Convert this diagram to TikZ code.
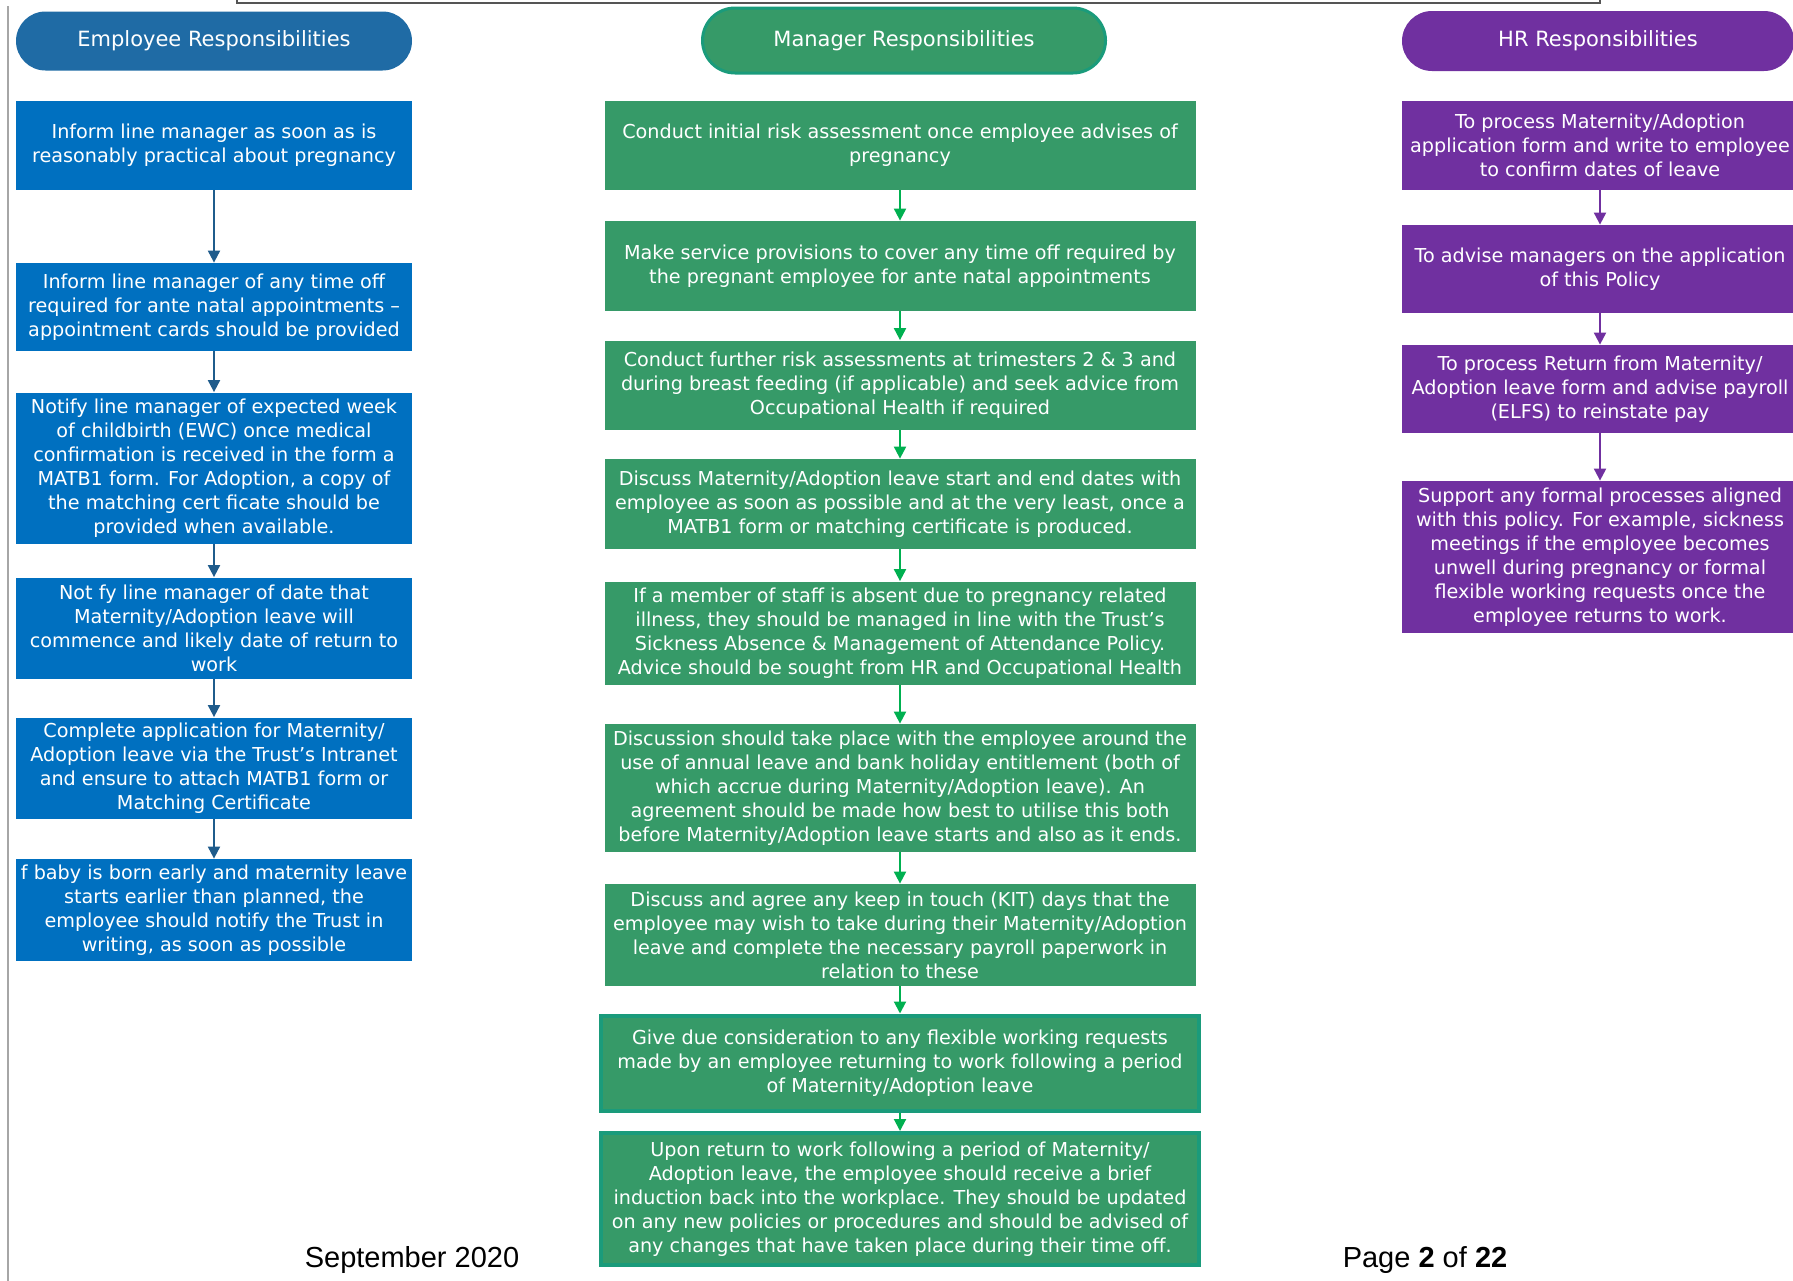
\documentclass[tikz,border=0pt]{standalone}
\usepackage{fontspec}
\setmainfont{DejaVu Sans}
\newfontfamily\pagefont{Liberation Sans}
\usetikzlibrary{shapes.misc, arrows.meta}

\definecolor{emphead}{HTML}{1F6BA5}
\definecolor{empblue}{HTML}{0070C0}
\definecolor{emparrow}{HTML}{1F5C8C}
\definecolor{mangreen}{HTML}{369A68}
\definecolor{manedge}{HTML}{1A9B7B}
\definecolor{manarrow}{HTML}{00B050}
\definecolor{hrpurple}{HTML}{7030A0}
\definecolor{framegray}{HTML}{555555}

\begin{document}
\begin{tikzpicture}[x = 0.5pt, y = -0.5pt,
    every node/.style = {text = white, align = center, inner sep = 0pt,
        font = \fontsize{9.6}{12}\selectfont},
    box/.style  = {rectangle, minimum width = 198pt},
    mbox/.style = {rectangle, minimum width = 295.5pt},
    head/.style = {rounded rectangle, minimum width = 198pt,
        font = \fontsize{10.5}{12}\selectfont},
    flow/.style = {line width = 1pt, -{Triangle[width = 6pt, length = 6pt]}}]

\useasboundingbox (0,0) rectangle (1793,1280);
\draw[framegray, line width = 1pt] (237,-10) -- (237,3) -- (1600,3) -- (1600,-10);
\draw[gray!70, line width = 1pt] (8,6) -- (8,1290);

\begin{scope}[nodes = {fill = empblue}]
\node[head, fill = emphead, minimum height = 29.5pt] (EH) at (214,41) {Employee Responsibilities};
\node[box, minimum height = 44.5pt] (E1) at (214,145)
    {Inform line manager as soon as is\\reasonably practical about pregnancy};
\node[box, minimum height = 44pt] (E2) at (214,307)
    {Inform line manager of any time off\\required for ante natal appointments –\\appointment cards should be provided};
\node[box, minimum height = 75.5pt] (E3) at (214,468)
    {Notify line manager of expected week\\of childbirth (EWC) once medical\\confirmation is received in the form a\\MATB1 form. For Adoption, a copy of\\the matching cert ficate should be\\provided when available.};
\node[box, minimum height = 50.5pt] (E4) at (214,628)
    {Not fy line manager of date that\\Maternity/Adoption leave will\\commence and likely date of return to\\work};
\node[box, minimum height = 50.5pt] (E5) at (214,768)
    {Complete application for Maternity/\\Adoption leave via the Trust’s Intranet\\and ensure to attach MATB1 form or\\Matching Certificate};
\node[box, minimum height = 51pt] (E6) at (214,910)
    {f baby is born early and maternity leave\\starts earlier than planned, the\\employee should notify the Trust in\\writing, as soon as possible};
\end{scope}

\begin{scope}[nodes = {fill = mangreen}]
\node[head, draw = manedge, line width = 1.5pt, minimum width = 201.5pt,
    minimum height = 32.5pt] (MH) at (904,40.5) {Manager Responsibilities};
\node[mbox, minimum height = 44.5pt] (M1) at (900,145)
    {Conduct initial risk assessment once employee advises of\\pregnancy};
\node[mbox, minimum height = 45pt] (M2) at (900,266)
    {Make service provisions to cover any time off required by\\the pregnant employee for ante natal appointments};
\node[mbox, minimum height = 44.5pt] (M3) at (900,385)
    {Conduct further risk assessments at trimesters 2 \& 3 and\\during breast feeding (if applicable) and seek advice from\\Occupational Health if required};
\node[mbox, minimum height = 45pt] (M4) at (900,504)
    {Discuss Maternity/Adoption leave start and end dates with\\employee as soon as possible and at the very least, once a\\MATB1 form or matching certificate is produced.};
\node[mbox, minimum height = 51.5pt] (M5) at (900,633)
    {If a member of staff is absent due to pregnancy related\\illness, they should be managed in line with the Trust’s\\Sickness Absence \& Management of Attendance Policy.\\Advice should be sought from HR and Occupational Health};
\node[mbox, minimum height = 64pt] (M6) at (900,788)
    {Discussion should take place with the employee around the\\use of annual leave and bank holiday entitlement (both of\\which accrue during Maternity/Adoption leave). An\\agreement should be made how best to utilise this both\\before Maternity/Adoption leave starts and also as it ends.};
\node[mbox, minimum height = 51pt] (M7) at (900,935)
    {Discuss and agree any keep in touch (KIT) days that the\\employee may wish to take during their Maternity/Adoption\\leave and complete the necessary payroll paperwork in\\relation to these};
\node[mbox, draw = manedge, line width = 2pt, minimum width = 299pt,
    minimum height = 47.5pt] (M8) at (900,1063)
    {Give due consideration to any flexible working requests\\made by an employee returning to work following a period\\of Maternity/Adoption leave};
\node[mbox, draw = manedge, line width = 2pt, minimum width = 299pt,
    minimum height = 66pt] (M9) at (900,1199)
    {Upon return to work following a period of Maternity/\\Adoption leave, the employee should receive a brief\\induction back into the workplace. They should be updated\\on any new policies or procedures and should be advised of\\any changes that have taken place during their time off.};
\end{scope}

\begin{scope}[nodes = {fill = hrpurple}]
\node[head, minimum width = 196pt, minimum height = 30pt] (HH) at (1598,41) {HR Responsibilities};
\node[box, minimum height = 44.5pt] (H1) at (1600,145)
    {To process Maternity/Adoption\\application form and write to employee\\to confirm dates of leave};
\node[box, minimum height = 44pt] (H2) at (1600,269)
    {To advise managers on the application\\of this Policy};
\node[box, minimum height = 44pt] (H3) at (1600,389)
    {To process Return from Maternity/\\Adoption leave form and advise payroll\\(ELFS) to reinstate pay};
\node[box, minimum height = 76pt] (H4) at (1600,557)
    {Support any formal processes aligned\\with this policy. For example, sickness\\meetings if the employee becomes\\unwell during pregnancy or formal\\flexible working requests once the\\employee returns to work.};
\end{scope}

\begin{scope}[emparrow, line width = 1.2pt]
    \draw[flow] (E1) -- (E2);
    \draw[flow] (E2) -- (E3);
    \draw[flow] (E3) -- (E4);
    \draw[flow] (E4) -- (E5);
    \draw[flow] (E5) -- (E6);
\end{scope}
\begin{scope}[manarrow]
    \draw[flow] (M1) -- (M2);
    \draw[flow] (M2) -- (M3);
    \draw[flow] (M3) -- (M4);
    \draw[flow] (M4) -- (M5);
    \draw[flow] (M5) -- (M6);
    \draw[flow] (M6) -- (M7);
    \draw[flow] (M7) -- (M8);
    \draw[flow] (M8) -- (M9);
\end{scope}
\begin{scope}[hrpurple]
    \draw[flow] (H1) -- (H2);
    \draw[flow] (H2) -- (H3);
    \draw[flow] (H3) -- (H4);
\end{scope}

\begin{scope}[nodes = {text = black, font = \pagefont\fontsize{14.5}{16}\selectfont}]
    \node (date) at (412,1260) {September 2020};
    \node (page) at (1425,1260) {Page \textbf{2} of \textbf{22}};
\end{scope}

\end{tikzpicture}
\end{document}
